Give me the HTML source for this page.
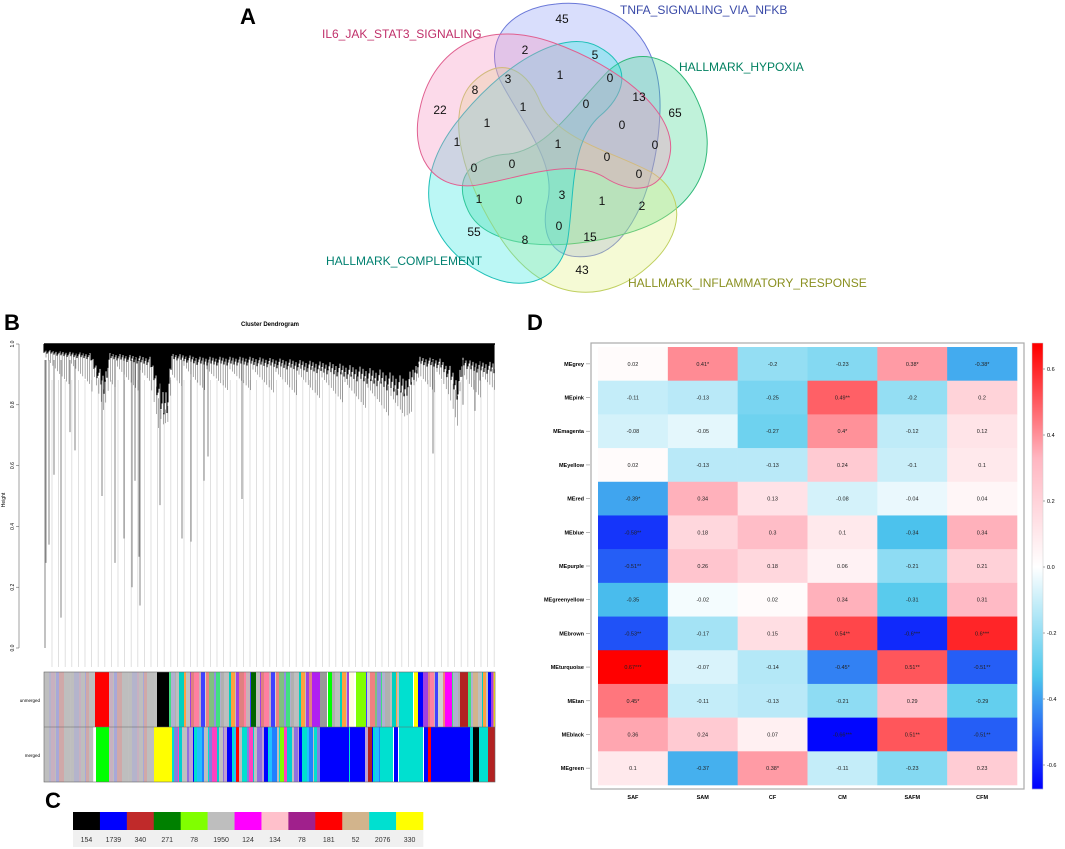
<!DOCTYPE html>
<html><head><meta charset="utf-8"><style>
html,body{margin:0;padding:0;background:#fff;}
svg{display:block;font-family:"Liberation Sans","DejaVu Sans",sans-serif;}
</style></head><body>
<svg id="fig" width="1065" height="849" viewBox="0 0 1065 849" xmlns="http://www.w3.org/2000/svg">
<g>
<text x="240" y="24" font-size="22" font-weight="bold">A</text>
<g id="venn"></g>
<text x="322" y="38" font-size="12" fill="#c0306a">IL6_JAK_STAT3_SIGNALING</text>
<text x="620" y="14" font-size="12" fill="#3a4aa8">TNFA_SIGNALING_VIA_NFKB</text>
<text x="679" y="71" font-size="12" fill="#008060">HALLMARK_HYPOXIA</text>
<text x="326" y="265" font-size="12" fill="#008070">HALLMARK_COMPLEMENT</text>
<text x="628" y="287" font-size="12" fill="#8a9020">HALLMARK_INFLAMMATORY_RESPONSE</text>
<g id="vennNums" font-size="12" fill="#111" text-anchor="middle"></g>
</g>
<g>
<text x="4" y="330" font-size="22" font-weight="bold">B</text>
<text x="270" y="326" font-size="6" font-weight="bold" text-anchor="middle">Cluster Dendrogram</text>
<text x="5" y="500" font-size="5" transform="rotate(-90 5 500)" text-anchor="middle">Height</text>
<g id="dendro"></g>
<text x="40" y="702" font-size="4.5" text-anchor="end">unmerged</text>
<text x="40" y="757" font-size="4.5" text-anchor="end">merged</text>
<g id="bars"></g>
</g>
<g>
<text x="45" y="808" font-size="22" font-weight="bold">C</text>
<g id="ctab"></g>
</g>
<g>
<text x="527" y="330" font-size="22" font-weight="bold">D</text>
<rect x="591" y="343" width="433" height="446" fill="#fff" stroke="#aaa" stroke-width="1.2"/>
<g id="heat"></g>
<g id="cbar"></g>
</g>
</svg>
<script>
const rowNames=["MEgrey","MEpink","MEmagenta","MEyellow","MEred","MEblue","MEpurple","MEgreenyellow","MEbrown","MEturquoise","MEtan","MEblack","MEgreen"];
const colNames=["SAF","SAM","CF","CM","SAFM","CFM"];
const corrValues=[
[0.02,0.41,-0.2,-0.23,0.38,-0.38],
[-0.11,-0.13,-0.25,0.49,-0.2,0.2],
[-0.08,-0.05,-0.27,0.4,-0.12,0.12],
[0.02,-0.13,-0.13,0.24,-0.1,0.1],
[-0.39,0.34,0.13,-0.08,-0.04,0.04],
[-0.58,0.18,0.3,0.1,-0.34,0.34],
[-0.51,0.26,0.18,0.06,-0.21,0.21],
[-0.35,-0.02,0.02,0.34,-0.31,0.31],
[-0.53,-0.17,0.15,0.54,-0.6,0.6],
[0.67,-0.07,-0.14,-0.45,0.51,-0.51],
[0.45,-0.11,-0.13,-0.21,0.29,-0.29],
[0.36,0.24,0.07,-0.66,0.51,-0.51],
[0.1,-0.37,0.38,-0.11,-0.23,0.23]];
const stars=[
["","*","","","*","*"],["","","","**","",""],["","","","*","",""],["","","","","",""],
["*","","","","",""],["**","","","","",""],["**","","","","",""],["","","","","",""],
["**","","","**","***","***"],["***","","","*","**","**"],["*","","","","",""],
["","","","***","**","**"],["","","*","","",""]];
const cbarTicks=[0.6,0.4,0.2,0.0,-0.2,-0.4,-0.6];
const modColors=["#000000","#0000ff","#c02a2a","#008000","#80ff00","#bebebe","#ff00ff","#ffc0cb","#a0208c","#ff0000","#d2b48c","#00e0d0","#ffff00"];
const modSizes=[154,1739,340,271,78,1950,124,134,78,181,52,2076,330];
const vennCounts=[45,2,5,3,1,0,8,13,65,22,1,0,1,0,1,1,0,0,0,0,0,1,0,3,1,2,55,8,0,15,43];
const vennPos=[[562,19],[525,50],[595,55],[508,79],[560,75],[610,78],[475,90],[639,97],[675,113],[440,110],[523,107],[586,104],[487,123],[622,125],[457,142],[558,144],[655,145],[474,168],[512,164],[607,157],[639,174],[479,199],[519,200],[562,195],[602,201],[642,206],[474,232],[525,240],[559,226],[590,237],[582,270]];
const leafX=[45,46,49,54,61,70,75,102,115,124,132,135,139,140,160,182,191,204,208,242,433,463,475,480];
const leafH=[0.0,0.28,0.34,0.57,0.1,0.71,0.65,0.5,0.28,0.36,0.2,0.55,0.3,0.14,0.47,0.36,0.35,0.55,0.63,0.49,0.64,0.8,0.78,0.88];
const bandX=[44,60,90,98,104,110,130,150,156,162,168,172,200,250,280,330,380,405,412,420,440,450,458,463,470,495];
const bandH=[0.97,0.96,0.95,0.88,0.83,0.95,0.94,0.93,0.85,0.75,0.78,0.95,0.93,0.93,0.92,0.9,0.86,0.82,0.86,0.93,0.92,0.88,0.81,0.93,0.91,0.9];

const NS="http://www.w3.org/2000/svg";
function mk(tag,attrs,parent){const e=document.createElementNS(NS,tag);for(const k in attrs)e.setAttribute(k,attrs[k]);parent.appendChild(e);return e;}
const stops=[[-0.67,[0,0,255]],[-0.33,[78,200,236]],[0,[255,255,255]],[0.33,[255,182,193]],[0.67,[255,0,0]]];
function col(v){v=Math.max(-0.67,Math.min(0.67,v));for(let i=0;i<stops.length-1;i++){const a=stops[i],b=stops[i+1];if(v<=b[0]){const t=(v-a[0])/(b[0]-a[0]);const c=a[1].map((x,j)=>Math.round(x+(b[1][j]-x)*t));return `rgb(${c})`;}}return "red";}

const hx0=598,hx1=1017,hy0=347,hy1=785;
const cw=(hx1-hx0)/colNames.length, rh=(hy1-hy0)/rowNames.length;
const xS=j=>hx0+j*cw, yS=i=>hy0+i*rh;
const heat=document.getElementById('heat');
rowNames.forEach((r,i)=>{
  colNames.forEach((c,j)=>{
    const v=corrValues[i][j];
    const rc=mk('rect',{x:xS(j),y:yS(i),width:cw+0.3,height:rh+0.3,fill:col(v)},heat);
    
    
    const t=mk('text',{x:xS(j)+cw/2,y:yS(i)+rh/2+2,'font-size':5.5,'text-anchor':'middle',fill:'#222'},heat);
    t.textContent=v+stars[i][j];
    
    
  });
  const l=mk('text',{x:584,y:yS(i)+rh/2+2,'font-size':5.5,'font-weight':'bold','text-anchor':'end'},heat);
  l.textContent=r;
  
  
  mk('line',{x1:586,x2:590,y1:yS(i)+rh/2,y2:yS(i)+rh/2,stroke:'#888','stroke-width':0.6},heat);
});
colNames.forEach((c,j)=>{
  const t=mk('text',{x:xS(j)+cw/2,y:799,'font-size':5.5,'font-weight':'bold','text-anchor':'middle'},heat);
  t.textContent=c;
  
  
});
const cb=document.getElementById('cbar');
const cbY=v=>567-v*330;
for(let y=343;y<789;y++){const v=(567-y-0.5)/330;mk('rect',{x:1032,y:y,width:11,height:1.2,fill:col(v)},cb);}
mk('rect',{x:1032,y:343,width:11,height:446,fill:'none',stroke:'#ccc','stroke-width':0.5},cb);
cbarTicks.forEach(v=>{
  mk('line',{x1:1043,x2:1045,y1:cbY(v),y2:cbY(v),stroke:'#555','stroke-width':0.5},cb);
  const t=mk('text',{x:1047,y:cbY(v)+2,'font-size':5.5},cb);
  t.textContent=v.toFixed(1);
  
  
});

const ct=document.getElementById('ctab');
const cx0=73,cwid=(423-73)/modColors.length;
modColors.forEach((c,i)=>{
  const r=mk('rect',{x:cx0+i*cwid,y:812,width:cwid+0.3,height:18,fill:c},ct);
  
  
  mk('rect',{x:cx0+i*cwid,y:830,width:cwid+0.3,height:17,fill:'#f0f0f0'},ct);
  const t=mk('text',{x:cx0+i*cwid+cwid/2,y:842,'font-size':7,'text-anchor':'middle',fill:'#333'},ct);
  t.textContent=modSizes[i];
  
  
});

const venn=document.getElementById('venn');
const vcols=[["#8c9cf5","#6a78d8"],["#40d890","#30b878"],["#e0f080","#c0d060"],["#30e8e0","#20c0b8"],["#f590c0","#e06090"]];
const petal="M 556 4 C 610 -2 662 30 660 110 C 658 180 632 250 590 256 C 548 262 540 230 548 200 C 556 160 520 120 500 80 C 482 40 510 8 556 4 Z";
vcols.forEach((c,k)=>{
  const g=mk('g',{transform:`rotate(${72*k} 560 150)`},venn);
  const e=mk('path',{d:petal,fill:c[0],'fill-opacity':0.33,stroke:c[1],'stroke-width':1},g);
  
  
});
const vn=document.getElementById('vennNums');
vennCounts.forEach((n,i)=>{
  const t=mk('text',{x:vennPos[i][0],y:vennPos[i][1]+4},vn);
  t.textContent=n;
  
  
});

const dg=document.getElementById('dendro');
const yH=h=>648-h*304;
[0,0.2,0.4,0.6,0.8,1.0].forEach(v=>{
  mk('line',{x1:16,x2:19,y1:yH(v),y2:yH(v),stroke:'#444','stroke-width':0.5},dg);
  const t=mk('text',{x:14,y:yH(v),'font-size':5,'text-anchor':'middle',transform:`rotate(-90 14 ${yH(v)})`},dg);
  t.textContent=v.toFixed(1);
  
  
});
mk('line',{x1:19,x2:19,y1:yH(0),y2:yH(1),stroke:'#444','stroke-width':0.5},dg);
for(let x=52;x<=495;x+=6.6){mk('line',{x1:x,x2:x,y1:380,y2:667,stroke:'#d8d8d8','stroke-width':0.8},dg);}
leafX.forEach((x,i)=>{mk('line',{x1:x,x2:x,y1:360,y2:yH(leafH[i]),stroke:'#666','stroke-width':0.8},dg);});
function bandAt(x){for(let i=0;i<bandX.length-1;i++){if(x<=bandX[i+1]){const t=(x-bandX[i])/(bandX[i+1]-bandX[i]);return bandH[i]+(bandH[i+1]-bandH[i])*t;}}return bandH[bandH.length-1];}
for(let x=46;x<495;x+=2.3){
  const b=yH(bandAt(x));
  mk('line',{x1:x,x2:x,y1:b-5,y2:b+4+((x*31)%23),stroke:'#555','stroke-width':0.5},dg);
}
for(let x=44;x<495;x+=1){
  const b=yH(bandAt(x));
  const top=yH(1);
  mk('line',{x1:x,x2:x,y1:top,y2:top+(b-top)*(0.6+((x*17)%10)/22),stroke:'#000','stroke-width':1.1},dg);
}
mk('line',{x1:44,x2:495,y1:yH(1),y2:yH(1),stroke:'#000','stroke-width':1.5},dg);

const bars=document.getElementById('bars');
const mixU=["#bebebe","#c8b0b8","#b0b0d0","#e08080","#9090e0","#c0c0c0","#f08080","#00d0c0","#4040ff","#b0b0b0","#ff80a0","#40e080","#a040e0","#80c080","#ffa040","#d0d0d0"];
const mixM=["#bebebe","#c0a0d0","#8080e0","#00e0d0","#00d0d0","#2080ff","#9070e0","#00e0d0","#0000ff","#ff40c0","#20c0ff","#c0c0c0"];
function stripes(y,h,pal,x0,x1,seed){let x=x0,k=seed;while(x<x1){const w=1+((k*37)%5);mk('rect',{x:x,y:y,width:Math.min(w,x1-x)+0.2,height:h,fill:pal[(k*7)%pal.length]},bars);x+=w;k++;}}
const greyMix=["#bebebe","#c8b0c0","#bebebe","#b4b4cc","#d0a8a8","#bebebe","#a8a8d8","#c0c0c0","#bebebe"];
const unSeg=[["grey",44,95],["#ff0000",95,109],["grey",109,157],["#000000",157,169],["mix",169,251],["#006400",251,256],["mix",256,312],["#b020f0",312,320],["#999999",320,327],["#00ff00",328,332],["mix",332,349],["#ffffe0",349,354],["#80ff00",356,366],["mix",366,399],["#00e0d0",399,413],["#ffff00",414,418],["#0000ff",418,423],["mix",423,460],["#ff00ff",445,452],["#b22222",460,468],["mix",468,495],["#d2b48c",473,478],["#0000ff",488,491],["#ffff00",494,495]];
const mSeg=[["grey",44,93],["#00ff00",96,109],["grey",109,154],["#ffff00",154,172],["mix",172,320],["#ff0000",236,239],["#80ff00",280,284],["#0000ff",320,349],["#00e0d0",349,350],["#0000ff",350,365],["mix",365,380],["#b22222",368,372],["#00e0d0",380,393],["#0000ff",394,398],["#00e0d0",399,423],["#0000ff",424,470],["#ff0000",428,431],["mix",470,473],["#000000",473,479],["#00e0d0",479,488],["#b22222",488,495]];
function drawSeg(seg,y,h,pal){seg.forEach((s,i)=>{if(s[0]==="mix")stripes(y,h,pal,s[1],s[2],i*3+1);else if(s[0]==="grey"){stripes(y,h,greyMix,s[1],s[2],i+2);}else mk('rect',{x:s[1],y:y,width:s[2]-s[1],height:h,fill:s[0]},bars);});}
drawSeg(unSeg,672,55,mixU);
drawSeg(mSeg,727,55,mixM);
mk('rect',{x:44,y:672,width:451,height:110,fill:'none',stroke:'#666','stroke-width':0.6},bars);
mk('line',{x1:44,x2:495,y1:727,y2:727,stroke:'#666','stroke-width':0.6},bars);
</script>
</body></html>
